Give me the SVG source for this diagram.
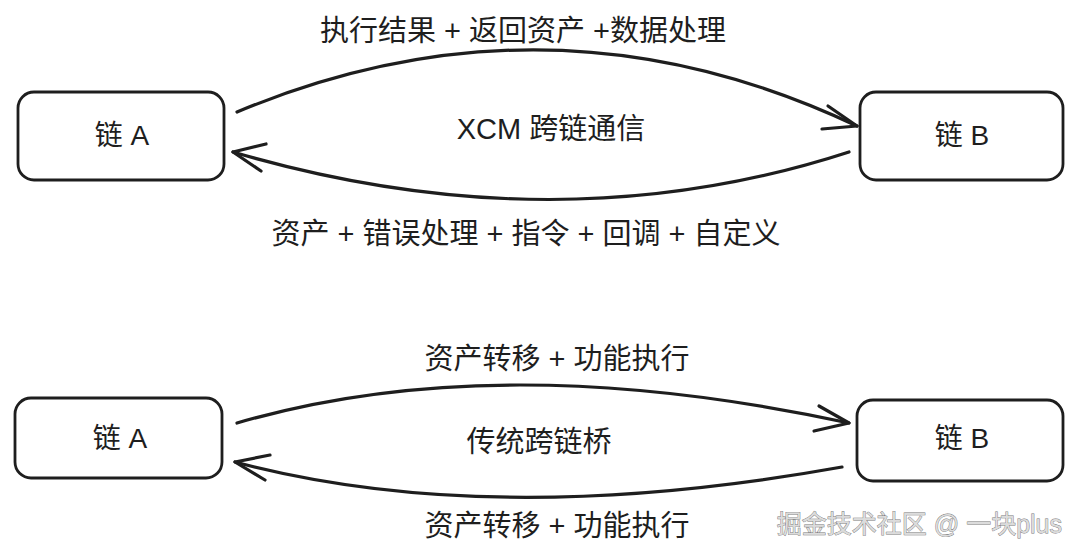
<svg xmlns="http://www.w3.org/2000/svg" width="1080" height="559" viewBox="0 0 1080 559">
<style>
.node{fill:#fff;stroke:#1e1e1e;stroke-width:2.8}
.conn{fill:none;stroke:#1e1e1e;stroke-width:3.2;stroke-linecap:round;stroke-linejoin:round}
.t{font-family:"Liberation Sans","Noto Sans CJK SC",sans-serif;font-size:29px;fill:#1e1e1e;text-anchor:middle}
.n{font-size:28px}
.wm{font-family:"Liberation Sans","Noto Sans CJK SC",sans-serif;font-size:25px;fill:#dcdcdc;stroke:#777;stroke-width:0.8;paint-order:stroke;text-anchor:end}
</style>
<rect width="1080" height="559" fill="#fff"/>
<g id="node-top-a"><rect class="node" x="18" y="92" width="206" height="88" rx="16"/><text class="t n" x="122" y="145">链 A</text></g>
<g id="node-top-b"><rect class="node" x="860" y="92" width="203" height="88" rx="16"/><text class="t n" x="962" y="145">链 B</text></g>
<g id="node-bot-a"><rect class="node" x="15" y="398" width="207" height="80" rx="16"/><text class="t n" x="120" y="448">链 A</text></g>
<g id="node-bot-b"><rect class="node" x="857" y="400" width="206" height="81" rx="16"/><text class="t n" x="962" y="448">链 B</text></g>
<g id="connectors">
<path class="conn" d="M237 112 Q551 -19 857 126"/>
<path class="conn" d="M828 106 L857 126 L822 129"/>
<path class="conn" d="M849 152 Q557 247 233 152"/>
<path class="conn" d="M266 144 L233 152 L261 171"/>
<path class="conn" d="M237 423 Q497 347 849 423"/>
<path class="conn" d="M819 406 L849 423 L814 431"/>
<path class="conn" d="M842 467 Q491 530 235 462"/>
<path class="conn" d="M270 455 L235 462 L265 480"/>
</g>
<g id="labels">
<text class="t" x="523" y="41">执行结果 + 返回资产 +数据处理</text>
<text class="t" x="551" y="139">XCM 跨链通信</text>
<text class="t" x="526" y="244">资产 + 错误处理 + 指令 + 回调 + 自定义</text>
<text class="t" x="557" y="369">资产转移 + 功能执行</text>
<text class="t" x="539" y="452">传统跨链桥</text>
<text class="t" x="557" y="536">资产转移 + 功能执行</text>
</g>
<text class="wm" x="1062" y="533">掘金技术社区 @ 一块plus</text>
</svg>
